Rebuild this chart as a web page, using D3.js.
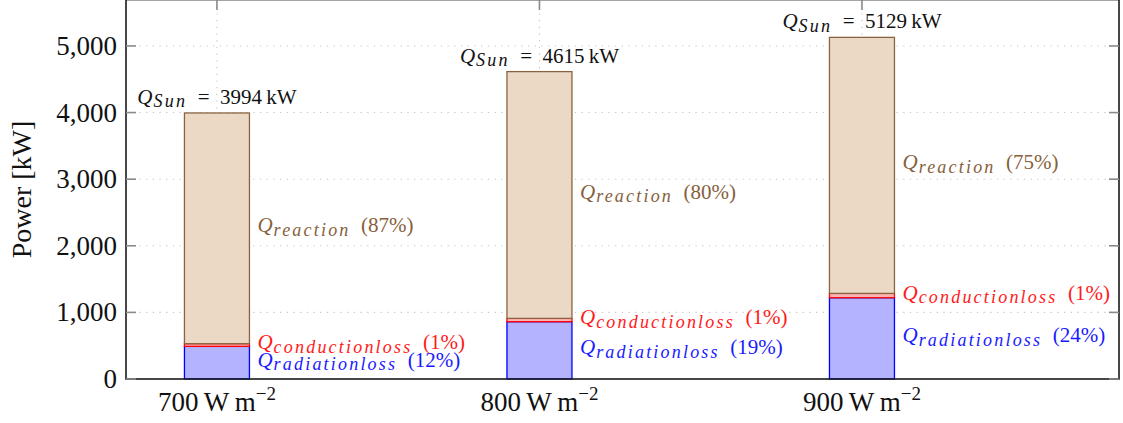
<!DOCTYPE html>
<html>
<head>
<meta charset="utf-8">
<script src="https://cdn.jsdelivr.net/npm/d3@7"></script>
<style>
  html, body { margin: 0; padding: 0; background: #fff; }
  svg { display: block; }
  text { font-family: "Liberation Serif", serif; }
</style>
</head>
<body>
<svg id="chart" width="1123" height="423"></svg>
<script>
// Irradiance levels (W m^-2) on the x axis
const categories = [700, 800, 900];
// Stacked power components per irradiance level, in kW
const radiationLoss  = [490, 860, 1220];
const conductionLoss = [40, 50, 65];
const reaction       = [3464, 3705, 3844];
// Y axis ticks (kW)
const yTicks = [0, 1000, 2000, 3000, 4000, 5000];

const series = [
  { key: "radiationloss",  values: radiationLoss,  fill: "#b3b3ff", stroke: "#0000ff", text: "#1a1aff" },
  { key: "conductionloss", values: conductionLoss, fill: "#ffb3b3", stroke: "#ff0000", text: "#ff1a1a" },
  { key: "reaction",       values: reaction,       fill: "#ebd9c6", stroke: "#8a6440", text: "#86603c" }
];

const FONT = "'Liberation Serif', serif";
const svg = d3.select("#chart");
const plot = { left: 126, right: 1119, top: 0, bottom: 379 };

const x = d3.scaleLinear().domain([671.8, 979.7]).range([plot.left, plot.right]);
const y = d3.scaleLinear().domain([0, 5690]).range([plot.bottom, plot.top]);
const barW = 65;

// Grid (dotted)
const grid = svg.append("g").attr("stroke", "#c4c4c4").attr("stroke-width", 1.1)
  .attr("stroke-dasharray", "1.2,5.5");
grid.selectAll("line.h").data(yTicks.filter(d => d > 0)).join("line")
  .attr("x1", plot.left).attr("x2", plot.right)
  .attr("y1", d => y(d)).attr("y2", d => y(d));
grid.selectAll("line.v").data(categories).join("line")
  .attr("x1", d => x(d)).attr("x2", d => x(d))
  .attr("y1", plot.top).attr("y2", plot.bottom);

// Stack the components
const rows = categories.map((c, i) => {
  const r = { cat: c };
  series.forEach(s => r[s.key] = s.values[i]);
  return r;
});
const stack = d3.stack().keys(series.map(s => s.key))(rows);
const totals = rows.map(r => d3.sum(series, s => r[s.key]));

stack.forEach((layer, li) => {
  const s = series[li];
  svg.append("g").selectAll("rect").data(layer).join("rect")
    .attr("x", d => x(d.data.cat) - barW / 2)
    .attr("width", barW)
    .attr("y", d => y(d[1]))
    .attr("height", d => y(d[0]) - y(d[1]))
    .attr("fill", s.fill)
    .attr("stroke", s.stroke)
    .attr("stroke-width", 1.3);
});

// Q with an italic subscript, followed by an optional upright tail
function qLabel(g, xPos, yBase, sub, tail, color, anchor) {
  const t = g.append("text").attr("x", xPos).attr("y", yBase)
    .attr("font-family", FONT)
    .attr("fill", color).attr("font-size", 21)
    .attr("text-anchor", anchor || "start");
  t.append("tspan").attr("font-style", "italic").text("Q");
  t.append("tspan").attr("font-style", "italic").attr("font-size", 18)
    .attr("dx", 1).attr("dy", 3.5).attr("letter-spacing", 2.2).text(sub);
  t.append("tspan").attr("dy", -3.5).text(tail);
  return t;
}

const ann = svg.append("g");
stack.forEach((layer, li) => {
  const s = series[li];
  layer.forEach((d, i) => {
    const pct = Math.round(s.values[i] / totals[i] * 100);
    const mid = (y(d[0]) + y(d[1])) / 2;
    qLabel(ann, x(d.data.cat) + barW / 2 + 8, mid + 4, s.key,
      "\u2002(" + pct + "%)", s.text);
  });
});

// Totals above bars
categories.forEach((c, i) => {
  qLabel(ann, x(c), y(totals[i]) - 9, "Sun",
    "\u2002=\u2002" + totals[i] + "\u2009kW", "#111", "middle");
});

// Frame
svg.append("rect")
  .attr("x", plot.left).attr("y", plot.top - 0.4)
  .attr("width", plot.right - plot.left).attr("height", plot.bottom - plot.top + 0.4)
  .attr("fill", "none").attr("stroke", "#1a1a1a").attr("stroke-width", 1.6);

// Tick marks (inward)
const ticks = svg.append("g").attr("stroke", "#8a8a8a").attr("stroke-width", 1.6);
const tl = 10;
yTicks.forEach(v => {
  ticks.append("line").attr("x1", plot.left).attr("x2", plot.left + tl).attr("y1", y(v)).attr("y2", y(v));
  ticks.append("line").attr("x1", plot.right).attr("x2", plot.right - tl).attr("y1", y(v)).attr("y2", y(v));
});
categories.forEach(c => {
  ticks.append("line").attr("x1", x(c)).attr("x2", x(c)).attr("y1", plot.top).attr("y2", plot.top + tl);
});

// Y tick labels
const fmt = d3.format(",");
svg.append("g").selectAll("text").data(yTicks).join("text")
  .attr("font-family", FONT)
  .attr("x", plot.left - 9).attr("y", d => y(d) + 9)
  .attr("text-anchor", "end").attr("font-size", 27).attr("fill", "#111")
  .text(d => fmt(d));

// X tick labels: "700 W m^-2"
categories.forEach(c => {
  const t = svg.append("text").attr("x", x(c)).attr("y", 411)
    .attr("font-family", FONT)
    .attr("text-anchor", "middle").attr("font-size", 27).attr("fill", "#111");
  t.append("tspan").text(c + "\u2009W\u2009m");
  t.append("tspan").attr("font-size", 19).attr("dy", -11).text("\u22122");
});

// Y axis title
svg.append("text")
  .attr("font-family", FONT)
  .attr("transform", `translate(31, ${(plot.top + plot.bottom) / 2}) rotate(-90)`)
  .attr("text-anchor", "middle").attr("font-size", 28).attr("fill", "#111")
  .text("Power [kW]");
</script>
</body>
</html>
